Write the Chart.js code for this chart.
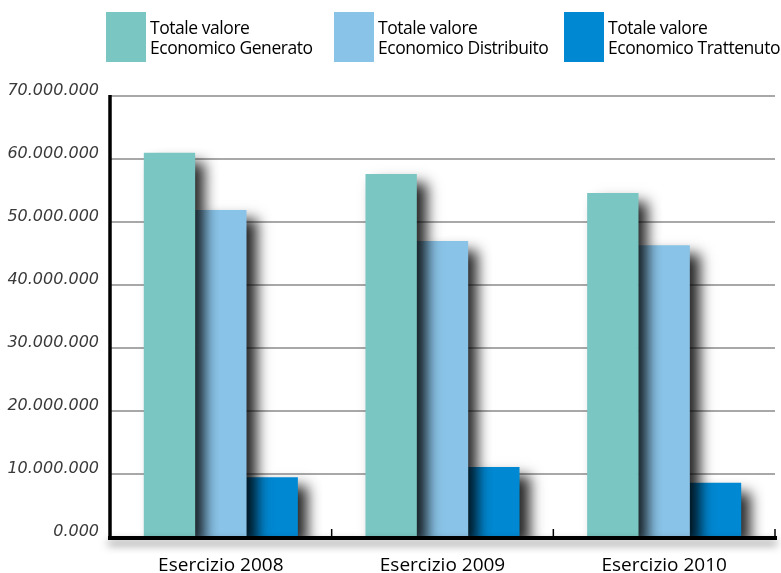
<!DOCTYPE html>
<html>
<head>
<meta charset="utf-8">
<script src="https://cdn.jsdelivr.net/npm/chart.js@4.4.1/dist/chart.umd.min.js"></script>
<style>
  html, body { margin: 0; padding: 0; background: #fff; }
  #wrap { position: relative; width: 781px; height: 573px; overflow: hidden; }
  #c { position: absolute; left: 0; top: 0; }
  .leg { position: absolute; top: 12px; height: 50px; font-family: "Open Sans", sans-serif; font-size: 17.5px; color: #000; line-height: 20px; }
  .leg .box { position: absolute; left: 0; top: 0; width: 40px; height: 50px; }
  .leg .txt { position: absolute; left: 44px; top: 5px; white-space: nowrap; letter-spacing: -0.45px; }
</style>
</head>
<body>
<div id="wrap">
  <canvas id="c" width="781" height="573"></canvas>
</div>
<script>
const categories = ['Esercizio 2008', 'Esercizio 2009', 'Esercizio 2010'];
const seriesNames = [
  ['Totale valore', 'Economico Generato'],
  ['Totale valore', 'Economico Distribuito'],
  ['Totale valore', 'Economico Trattenuto']
];
const generato    = [61000000, 57600000, 54600000];
const distribuito = [51900000, 47000000, 46300000];
const trattenuto  = [9500000, 11100000, 8600000];
const yTickLabels = ['0.000', '10.000.000', '20.000.000', '30.000.000', '40.000.000', '50.000.000', '60.000.000', '70.000.000'];
const colors = ['#79C6C2', '#89C3E7', '#0088D2'];
const legendLeft = [106, 334, 564];

// HTML legend
const wrap = document.getElementById('wrap');
seriesNames.forEach((lines, i) => {
  const d = document.createElement('div');
  d.className = 'leg';
  d.style.left = legendLeft[i] + 'px';
  const b = document.createElement('div');
  b.className = 'box';
  b.style.background = colors[i];
  const t = document.createElement('div');
  t.className = 'txt';
  t.innerHTML = lines.join('<br>');
  d.appendChild(b); d.appendChild(t);
  wrap.appendChild(d);
});

const shadowPlugin = {
  id: 'barShadow',
  beforeDatasetDraw(chart) {
    const ctx = chart.ctx;
    ctx.save();
    ctx.shadowColor = 'rgba(0,0,0,0.85)';
    ctx.shadowBlur = 13;
    ctx.shadowOffsetX = 10;
    ctx.shadowOffsetY = 9;
  },
  afterDatasetDraw(chart) {
    chart.ctx.restore();
  }
};

const axesPlugin = {
  id: 'axesLines',
  afterDatasetsDraw(chart) {
    const ctx = chart.ctx;
    const a = chart.chartArea;
    const xs = chart.scales.x;
    ctx.save();
    ctx.strokeStyle = '#000';
    ctx.lineCap = 'butt';
    ctx.lineWidth = 1.5;
    const n = xs.ticks.length;
    for (let i = 0; i < n; i++) {
      let x;
      if (i < n - 1) x = (xs.getPixelForTick(i) + xs.getPixelForTick(i + 1)) / 2;
      else x = a.right;
      ctx.beginPath();
      ctx.moveTo(x, a.bottom - 8);
      ctx.lineTo(x, a.bottom);
      ctx.stroke();
    }
    ctx.shadowColor = 'rgba(0,0,0,0.5)';
    ctx.shadowBlur = 8;
    ctx.shadowOffsetX = 0;
    ctx.shadowOffsetY = 5;
    ctx.lineWidth = 4;
    ctx.beginPath();
    ctx.moveTo(a.left - 2, a.bottom + 1);
    ctx.lineTo(a.right + 2, a.bottom + 1);
    ctx.stroke();
    ctx.shadowBlur = 0; ctx.shadowOffsetY = 0;
    ctx.lineWidth = 3.5;
    ctx.beginPath();
    ctx.moveTo(a.left, a.top - 1);
    ctx.lineTo(a.left, a.bottom + 3);
    ctx.stroke();
    ctx.restore();
  }
};

new Chart(document.getElementById('c'), {
  type: 'bar',
  data: {
    labels: categories,
    datasets: [
      { label: seriesNames[0].join(' '), data: generato, backgroundColor: colors[0] },
      { label: seriesNames[1].join(' '), data: distribuito, backgroundColor: colors[1] },
      { label: seriesNames[2].join(' '), data: trattenuto, backgroundColor: colors[2] }
    ]
  },
  options: {
    responsive: false,
    animation: false,
    devicePixelRatio: 1,
    layout: { padding: { top: 96, right: 6, left: 0, bottom: 0 } },
    datasets: { bar: { categoryPercentage: 0.695, barPercentage: 1.0, borderWidth: 0 } },
    plugins: { legend: { display: false }, tooltip: { enabled: false } },
    scales: {
      x: {
        grid: { display: false },
        border: { display: false },
        ticks: { color: '#000', font: { family: 'Open Sans', size: 19 }, padding: 9, maxRotation: 0 },
        afterFit(s) { s.height = 36; }
      },
      y: {
        min: 0, max: 70000000,
        afterBuildTicks(s) {
          s.ticks = yTickLabels.map((_, i) => ({ value: i * 10000000 }));
        },
        grid: { color: '#a8a8a8', lineWidth: 2, drawTicks: false },
        border: { display: false },
        ticks: {
          color: '#3a3a3a',
          font: { family: 'DejaVu Sans', size: 16, style: 'italic' },
          padding: 11,
          labelOffset: -5,
          callback: (v, i) => yTickLabels[i]
        },
        afterFit(s) { s.width = 110; }
      }
    }
  },
  plugins: [shadowPlugin, axesPlugin]
});
</script>
</body>
</html>
